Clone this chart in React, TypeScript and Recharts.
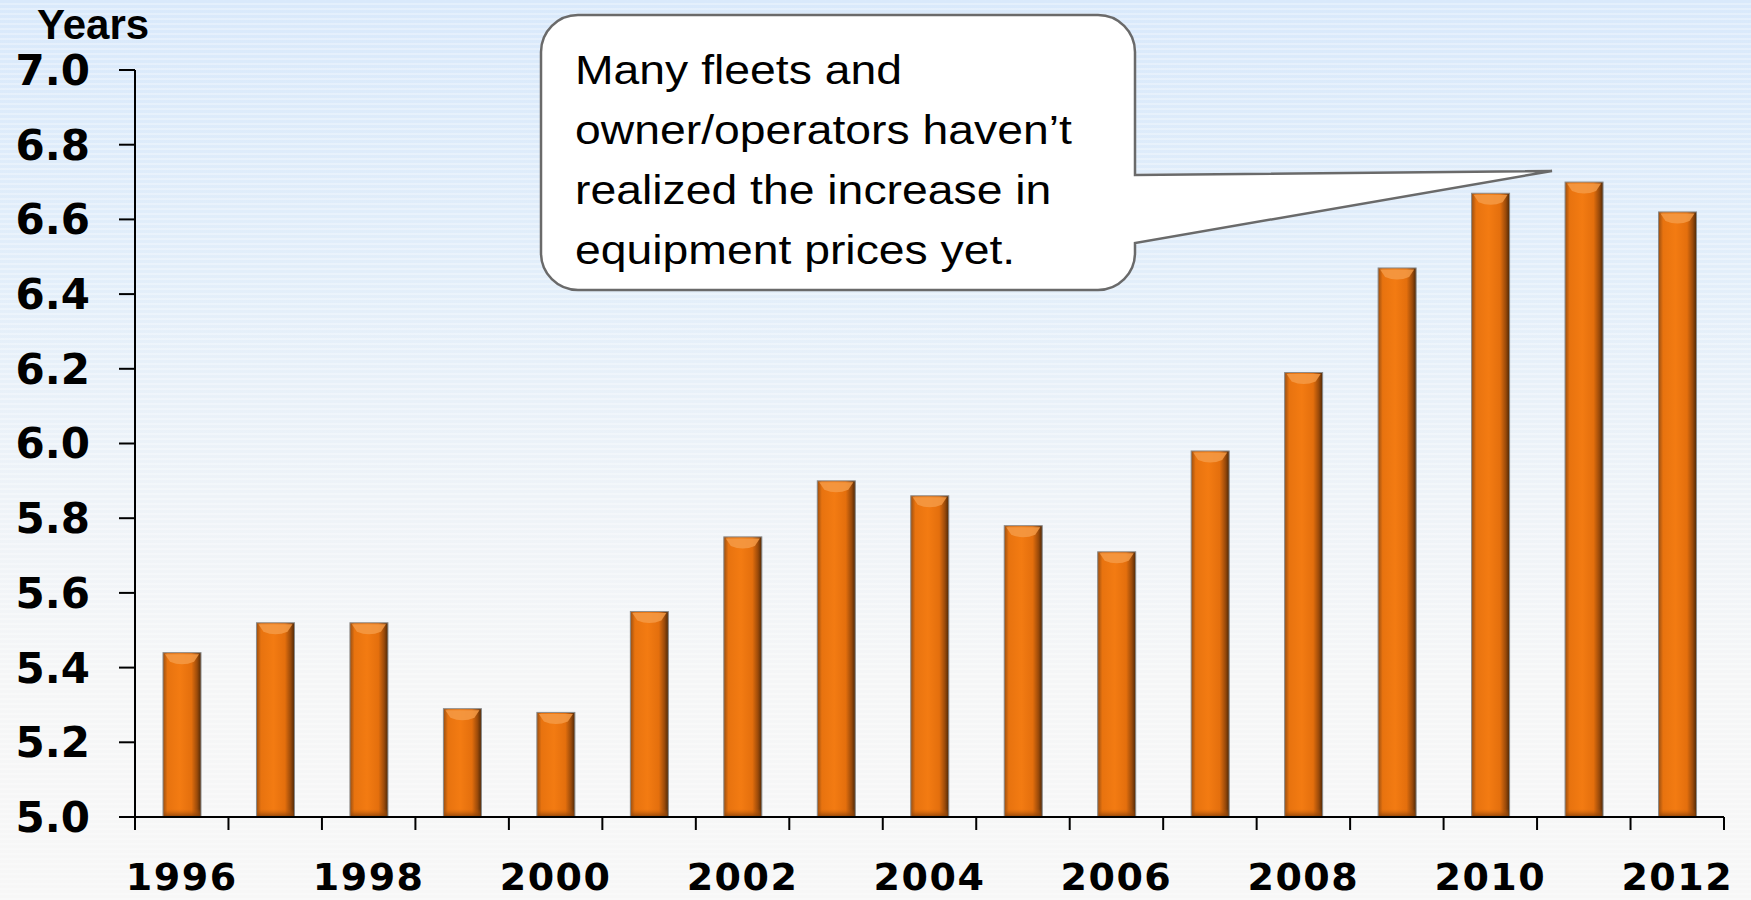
import React from "react";
import { BarChart, Bar, XAxis, YAxis } from "recharts";

const years = [1996, 1997, 1998, 1999, 2000, 2001, 2002, 2003, 2004, 2005, 2006, 2007, 2008, 2009, 2010, 2011, 2012];
const ages = [5.44, 5.52, 5.52, 5.29, 5.28, 5.55, 5.75, 5.9, 5.86, 5.78, 5.71, 5.98, 6.19, 6.47, 6.67, 6.7, 6.62];
const yTicks = [5.0, 5.2, 5.4, 5.6, 5.8, 6.0, 6.2, 6.4, 6.6, 6.8, 7.0];
const calloutLines = [
  "Many fleets and",
  "owner/operators haven\u2019t",
  "realized the increase in",
  "equipment prices yet.",
];

const data = years.map((y, i) => ({ year: y, age: ages[i] }));

const W = 1751;
const H = 900;
const LEFT = 135;
const RIGHT = 27;
const TOP = 70;
const XH = 83;
const BAND = (W - LEFT - RIGHT) / years.length;

const XTick = (props: any) => {
  const { x, y, payload, index } = props;
  const half = BAND / 2;
  const yr = payload.value as number;
  const isLast = index === years.length - 1;
  return (
    <g>
      <line x1={x - half} x2={x - half} y1={y} y2={y + 13} stroke="#000" strokeWidth={2} />
      {isLast && <line x1={x + half} x2={x + half} y1={y} y2={y + 13} stroke="#000" strokeWidth={2} />}
      {yr % 2 === 0 && (
        <text
          x={x}
          y={y + 73}
          textAnchor="middle"
          fontFamily="DejaVu Sans"
          fontWeight="bold"
          fontSize={38}
          letterSpacing={1.5}
          fill="#000"
        >
          {yr}
        </text>
      )}
    </g>
  );
};

const BarShape = (props: any) => {
  const { x, y, width, height } = props;
  if (!height || height <= 0) return null;
  return (
    <g>
      <rect x={x} y={y} width={width} height={height} fill="url(#barGrad)" stroke="#8a8a8a" strokeWidth={1} />
      <path
        d={`M ${x + 2} ${y + 1.5} L ${x + width - 2} ${y + 1.5} L ${x + width - 7} ${y + 9} Q ${x + width / 2} ${y + 14} ${x + 7} ${y + 9} Z`}
        fill="#f59a45"
        opacity={0.85}
      />
      <rect x={x + 1} y={y + height - 8} width={width - 2} height={7} fill="url(#barBottom)" />
    </g>
  );
};

export default function App() {
  const r = 37;
  const bx1 = 541, by1 = 15, bx2 = 1135, by2 = 290;
  const calloutPath = [
    `M ${bx1 + r} ${by1}`,
    `H ${bx2 - r}`,
    `A ${r} ${r} 0 0 1 ${bx2} ${by1 + r}`,
    `V 175`,
    `L 1552 171`,
    `L ${bx2} 243`,
    `V ${by2 - r}`,
    `A ${r} ${r} 0 0 1 ${bx2 - r} ${by2}`,
    `H ${bx1 + r}`,
    `A ${r} ${r} 0 0 1 ${bx1} ${by2 - r}`,
    `V ${by1 + r}`,
    `A ${r} ${r} 0 0 1 ${bx1 + r} ${by1}`,
    "Z",
  ].join(" ");

  return (
    <div
      style={{
        position: "absolute",
        left: 0,
        top: 0,
        width: W,
        height: H,
        background: "linear-gradient(to bottom, #d9e9fb 0%, #e2eefa 30%, #eef3f8 55%, #f5f6f7 75%, #f7f7f7 100%)",
        overflow: "hidden",
      }}
    >
      <div
        style={{
          position: "absolute",
          inset: 0,
          background:
            "repeating-linear-gradient(to bottom, rgba(255,255,255,0) 0px, rgba(255,255,255,0) 3px, rgba(255,255,255,0.3) 3px, rgba(255,255,255,0.3) 5px)",
        }}
      />
      <div style={{ position: "absolute", left: 0, top: 0 }}>
        <BarChart width={W} height={H} data={data} margin={{ top: TOP, right: RIGHT, bottom: 0, left: 0 }}>
          <defs>
            <linearGradient id="barGrad" x1="0" y1="0" x2="1" y2="0">
              <stop offset="0%" stopColor="#9a4e10" />
              <stop offset="12%" stopColor="#e8730f" />
              <stop offset="45%" stopColor="#f37b12" />
              <stop offset="75%" stopColor="#e46f0d" />
              <stop offset="90%" stopColor="#9a4a0a" />
              <stop offset="100%" stopColor="#4e2806" />
            </linearGradient>
            <linearGradient id="barBottom" x1="0" y1="0" x2="0" y2="1">
              <stop offset="0%" stopColor="#c35f0c" stopOpacity={0} />
              <stop offset="100%" stopColor="#8a420a" stopOpacity={0.8} />
            </linearGradient>
          </defs>
          <XAxis
            dataKey="year"
            type="category"
            height={XH}
            tickLine={false}
            tickSize={0}
            tickMargin={0}
            interval={0}
            axisLine={{ stroke: "#000", strokeWidth: 2 }}
            tick={<XTick />}
          />
          <YAxis
            type="number"
            domain={[5, 7]}
            ticks={yTicks}
            width={LEFT}
            tickSize={16}
            tickMargin={29}
            interval={0}
            axisLine={{ stroke: "#000", strokeWidth: 2 }}
            tickLine={{ stroke: "#000", strokeWidth: 2 }}
            tickFormatter={(v: number) => v.toFixed(1)}
            tick={{ fontFamily: "DejaVu Sans", fontWeight: "bold", fontSize: 42, fill: "#000" }}
          />
          <Bar dataKey="age" barSize={38} shape={<BarShape />} isAnimationActive={false} />
        </BarChart>
      </div>
      <svg width={W} height={H} style={{ position: "absolute", left: 0, top: 0, pointerEvents: "none" }}>
        <text x={37} y={39} fontFamily="Liberation Sans" fontWeight="bold" fontSize={42} fill="#000">
          Years
        </text>
        <path d={calloutPath} fill="#ffffff" stroke="#6a6a6a" strokeWidth={2.5} />
        <g transform="translate(575,0) scale(1.13,1)">
          {calloutLines.map((t, i) => (
            <text key={i} x={0} y={84 + i * 60} fontFamily="Liberation Sans" fontSize={41} fill="#000">
              {t}
            </text>
          ))}
        </g>
      </svg>
    </div>
  );
}
